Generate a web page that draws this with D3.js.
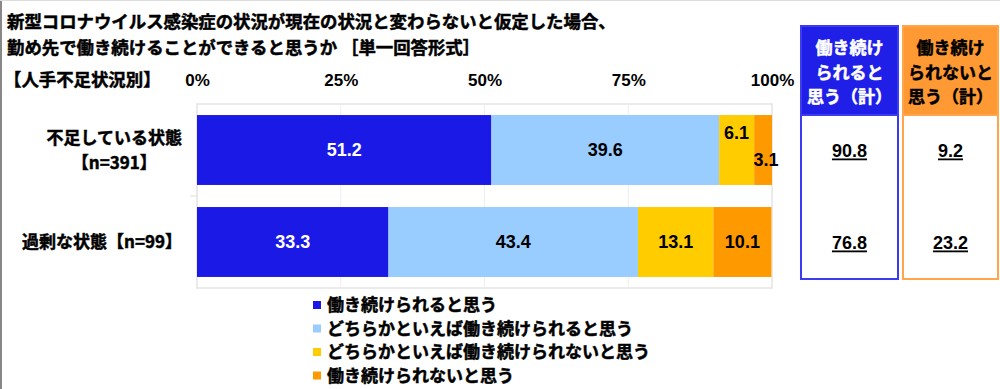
<!DOCTYPE html>
<html><head><meta charset="utf-8">
<script src="https://cdn.jsdelivr.net/npm/d3@7"></script>
<style>
html,body{margin:0;padding:0;background:#fff;}
svg{display:block;}
text{font-family:"Noto Sans CJK JP","Noto Sans",sans-serif;}
.jp{stroke-width:0.5px;paint-order:stroke;}
.num{font-family:"Liberation Sans",Arial,sans-serif;}
</style></head>
<body>
<svg id="c" width="1000" height="389"></svg>
<script>
// ---- data ----
const titleLines = ["新型コロナウイルス感染症の状況が現在の状況と変わらないと仮定した場合、",
                    "勤め先で働き続けることができると思うか ［単一回答形式］"];
const groupTitle = "【人手不足状況別】";
const categories = [["不足している状態","【n=391】"], ["過剰な状態【n=99】"]];
const seriesNames = ["働き続けられると思う","どちらかといえば働き続けられると思う","どちらかといえば働き続けられないと思う","働き続けられないと思う"];
const s1 = [51.2, 33.3];
const s2 = [39.6, 43.4];
const s3 = [6.1, 13.1];
const s4 = [3.1, 10.1];
const tickValues = [0, 25, 50, 75, 100];
const tickLabels = ["0%","25%","50%","75%","100%"];
const posHeader = ["働き続け","られると","思う（計）"];
const negHeader = ["働き続け","られないと","思う（計）"];
const posTotals = [90.8, 76.8];
const negTotals = [9.2, 23.2];
const colors = ["#1b19e6","#99ccff","#ffcc00","#ff9900"];

// ---- drawing ----
const W = "bold";
const svg = d3.select("#c");
svg.append("rect").attr("x",0).attr("y",0).attr("width",1000).attr("height",389).attr("fill","#fff");
svg.append("line").attr("x1",1).attr("x2",1).attr("y1",0).attr("y2",389).attr("stroke","#888").attr("stroke-width",2);
svg.append("line").attr("x1",0).attr("x2",1000).attr("y1",0.5).attr("y2",0.5).attr("stroke","#ddd").attr("stroke-width",1);

// title
svg.selectAll(".title").data(titleLines).join("text").attr("class","jp").attr("stroke","#000")
  .attr("x",7).attr("y",(d,i)=>22+i*26).attr("dy","0.36em")
  .attr("font-size",17.4).attr("font-weight",W).text(d=>d);
svg.append("text").attr("class","jp").attr("stroke","#000").attr("x",4).attr("y",80).attr("dy","0.36em")
  .attr("font-size",17.4).attr("font-weight",W).text(groupTitle);

const x = d3.scaleLinear().domain([0,100]).range([197,772]);
const y = d3.scaleBand().domain(d3.range(categories.length)).range([104,288]).paddingInner(0.24).paddingOuter(0.12);

// plot frame
svg.append("rect").attr("x",x(0)).attr("y",104).attr("width",x(100)-x(0)).attr("height",184)
  .attr("fill","none").attr("stroke","#e4e4e4").attr("stroke-width",1.5);
// gridlines
svg.selectAll(".grid").data(tickValues.slice(1,-1)).join("line")
  .attr("x1",d=>x(d)).attr("x2",d=>x(d)).attr("y1",104).attr("y2",288)
  .attr("stroke","#eeeeee").attr("stroke-width",1);
// axis labels
const ax = svg.append("g").attr("transform","translate(0,80)").call(d3.axisTop(x).tickValues(tickValues).tickFormat((d,i)=>tickLabels[i]).tickSize(0));
ax.select(".domain").remove();
ax.selectAll("text").attr("class","num").attr("font-size",17).attr("font-weight","bold")
  .attr("fill","#000").attr("y",0).attr("dy","0.36em");
// category tick between bands
svg.append("line").attr("x1",190).attr("x2",197).attr("y1",196).attr("y2",196).attr("stroke","#ddd");

// stacked
const rows = categories.map((c,i)=>({i, vals:[s1[i],s2[i],s3[i],s4[i]]}));
const segs = [];
rows.forEach(r=>{ let acc=0; r.vals.forEach((v,k)=>{ segs.push({i:r.i,k,v,x0:acc,x1:acc+v}); acc+=v; }); });
svg.selectAll(".seg").data(segs).join("rect")
  .attr("x",d=>x(d.x0)).attr("y",d=>y(d.i)).attr("width",d=>x(d.x1)-x(d.x0)).attr("height",y.bandwidth())
  .attr("fill",d=>colors[d.k]);
svg.selectAll(".lbl").data(segs).join("text").attr("class","num")
  .attr("x",d=>{ const w=x(d.x1)-x(d.x0); const c=(x(d.x0)+x(d.x1))/2; return w<25 && d.k===3 ? c+3 : c; })
  .attr("y",d=>{ const w=x(d.x1)-x(d.x0); const c=y(d.i)+y.bandwidth()/2;
     if(w<40 && d.k===2) return c-17; if(w<25 && d.k===3) return c+10; return c; })
  .attr("dy","0.36em").attr("text-anchor","middle").attr("font-size",18).attr("font-weight","bold")
  .attr("fill",d=>d.k===0?"#fff":"#000").text(d=>d.v.toFixed(1));

// category labels
categories.forEach((lines,i)=>{
  const cy = y(i)+y.bandwidth()/2;
  if(lines.length===1){
    svg.append("text").attr("class","jp").attr("stroke","#000").attr("x",182).attr("y",cy).attr("dy","0.36em").attr("text-anchor","end")
      .attr("font-size",17).attr("font-weight",W).text(lines[0]);
  } else {
    const t1 = svg.append("text").attr("class","jp").attr("stroke","#000").attr("x",182).attr("y",cy-12).attr("dy","0.36em").attr("text-anchor","end")
      .attr("font-size",17).attr("font-weight",W).text(lines[0]);
    const w = t1.node().getComputedTextLength();
    svg.append("text").attr("class","jp").attr("stroke","#000").attr("x",182-w/2).attr("y",cy+13).attr("dy","0.36em").attr("text-anchor","middle")
      .attr("font-size",17).attr("font-weight",W).text(lines[1]);
  }
});

// legend
const lg = svg.append("g");
seriesNames.forEach((n,k)=>{
  const ly = 305 + k*23.5;
  lg.append("rect").attr("x",313).attr("y",ly-4).attr("width",8).attr("height",8).attr("fill",colors[k]);
  lg.append("text").attr("class","jp").attr("stroke","#000").attr("x",327).attr("y",ly).attr("dy","0.36em").attr("font-size",17).attr("font-weight",W).text(n);
});

// summary boxes
function box(x0,x1,headFill,border,headText,textColor,vals){
  const g = svg.append("g");
  g.append("rect").attr("x",x0).attr("y",26).attr("width",x1-x0).attr("height",279-26).attr("fill","#fff").attr("stroke",border).attr("stroke-width",2);
  g.append("rect").attr("x",x0).attr("y",26).attr("width",x1-x0).attr("height",89).attr("fill",headFill).attr("stroke",border).attr("stroke-width",2);
  headText.forEach((t,j)=>{
    g.append("text").attr("class","jp").attr("stroke",textColor).attr("x",(x0+x1)/2).attr("y",48+j*24.5).attr("dy","0.36em").attr("text-anchor","middle")
      .attr("font-size",17).attr("font-weight",W).attr("fill",textColor).text(t);
  });
  vals.forEach((v,i)=>{
    g.append("text").attr("class","num").attr("x",(x0+x1)/2).attr("y",y(i)+y.bandwidth()/2+1).attr("dy","0.36em")
      .attr("text-anchor","middle").attr("font-size",18).attr("font-weight","bold")
      .attr("text-decoration","underline").text(v.toFixed(1));
  });
}
box(801,898,"#1f1fe8","#3b3bf0",posHeader,"#fff",posTotals);
box(903,998,"#ff9933","#ffa64d",negHeader,"#000",negTotals);
</script>
</body></html>
